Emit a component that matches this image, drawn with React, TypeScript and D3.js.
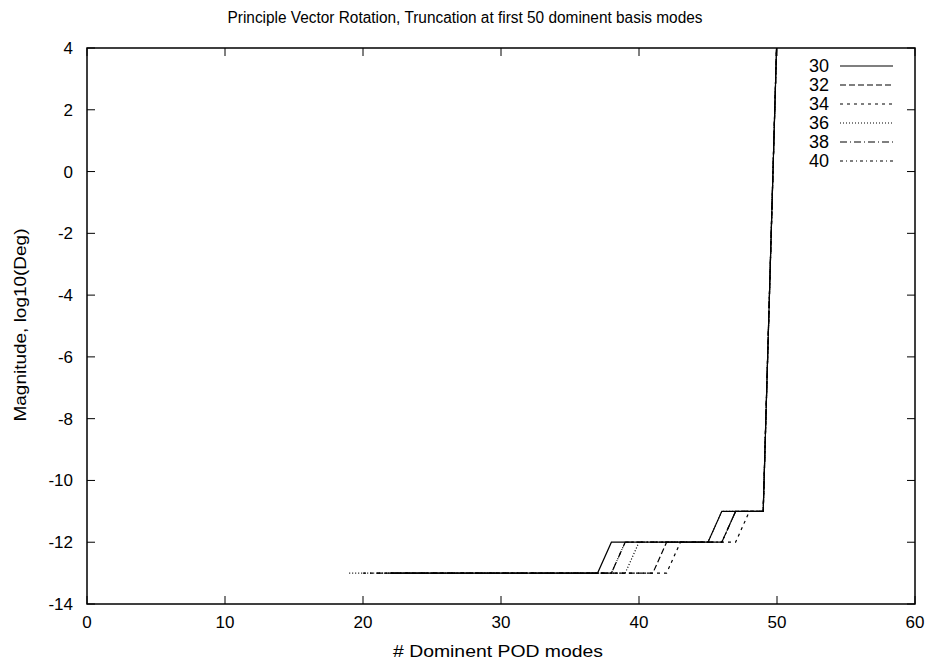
import React from 'react';
import * as d3 from 'd3';

// corner points (x = # modes, y = log10 magnitude)
const s30 = [[22, -13], [37, -13], [38, -12], [45, -12], [46, -11], [49, -11], [50, 4.5]];
const s32 = [[21, -13], [41, -13], [42, -12], [46, -12], [47, -11], [49, -11], [50, 4.5]];
const s34 = [[20, -13], [42, -13], [43, -12], [47, -12], [48, -11], [49, -11], [50, 4.5]];
const s36 = [[19, -13], [39, -13], [40, -12], [45, -12], [46, -11], [49, -11], [50, 4.5]];
const s38 = [[22, -13], [38, -13], [39, -12], [46, -12], [47, -11], [49, -11], [50, 4.5]];
const s40 = [[22, -13], [38, -13], [39, -12], [46, -12], [47, -11], [49, -11], [50, 4.5]];

const seriesNames = ['30', '32', '34', '36', '38', '40'];
const seriesData = [s30, s32, s34, s36, s38, s40];
const dashes = ['', '6,3', '3,4', '1,2', '7,3,1,3', '3,3,1,3'];

const xTicks = [0, 10, 20, 30, 40, 50, 60];
const yTicks = [4, 2, 0, -2, -4, -6, -8, -10, -12, -14];

const W = 932, H = 664;
const L = 87, R = 915, T = 48, B = 604;

export default function App() {
  const x = d3.scaleLinear().domain([0, 60]).range([L, R]);
  const y = d3.scaleLinear().domain([-14, 4]).range([B, T]);
  const line = d3.line<number[]>().x(d => x(d[0])).y(d => y(d[1]));
  const font = '"Liberation Sans", Arial, sans-serif';

  return (
    <svg width={W} height={H} style={{ position: 'absolute', left: 0, top: 0, background: '#fff' }} fontFamily={font}>
      <defs>
        <clipPath id="plot">
          <rect x={L} y={T} width={R - L} height={B - T} />
        </clipPath>
      </defs>
      <rect width={W} height={H} fill="#fff" />
      <text x={465} y={23} textAnchor="middle" fontSize={16} textLength={475} lengthAdjust="spacingAndGlyphs">
        Principle Vector Rotation, Truncation at first 50 dominent basis modes
      </text>
      {xTicks.map(t => (
        <g key={'x' + t}>
          <line x1={x(t)} x2={x(t)} y1={B} y2={B - 8} stroke="#000" />
          <line x1={x(t)} x2={x(t)} y1={T} y2={T + 8} stroke="#000" />
          <text x={x(t)} y={B + 24} textAnchor="middle" fontSize={17}>{t}</text>
        </g>
      ))}
      {yTicks.map(t => (
        <g key={'y' + t}>
          <line x1={L} x2={L + 8} y1={y(t)} y2={y(t)} stroke="#000" />
          <line x1={R} x2={R - 8} y1={y(t)} y2={y(t)} stroke="#000" />
          <text x={73} y={y(t) + 6} textAnchor="end" fontSize={17}>{t}</text>
        </g>
      ))}
      <rect x={L} y={T} width={R - L} height={B - T} fill="none" stroke="#000" strokeWidth={1.5} />
      <g clipPath="url(#plot)">
        {seriesData.map((d, i) => (
          <path key={i} d={line(d) || ''} fill="none" stroke="#000" strokeWidth={1.2}
            strokeDasharray={dashes[i] || undefined} />
        ))}
      </g>
      {seriesNames.map((n, i) => (
        <g key={'leg' + n}>
          <text x={829} y={72 + i * 19} textAnchor="end" fontSize={18}>{n}</text>
          <line x1={840} x2={893} y1={66 + i * 19} y2={66 + i * 19} stroke="#000" strokeWidth={1.2}
            strokeDasharray={dashes[i] || undefined} />
        </g>
      ))}
      <text x={498} y={657} textAnchor="middle" fontSize={17} textLength={210} lengthAdjust="spacingAndGlyphs">
        # Dominent POD modes
      </text>
      <text transform={`translate(26,325) rotate(-90)`} textAnchor="middle" fontSize={17}
        textLength={193} lengthAdjust="spacingAndGlyphs">
        Magnitude, log10(Deg)
      </text>
    </svg>
  );
}
